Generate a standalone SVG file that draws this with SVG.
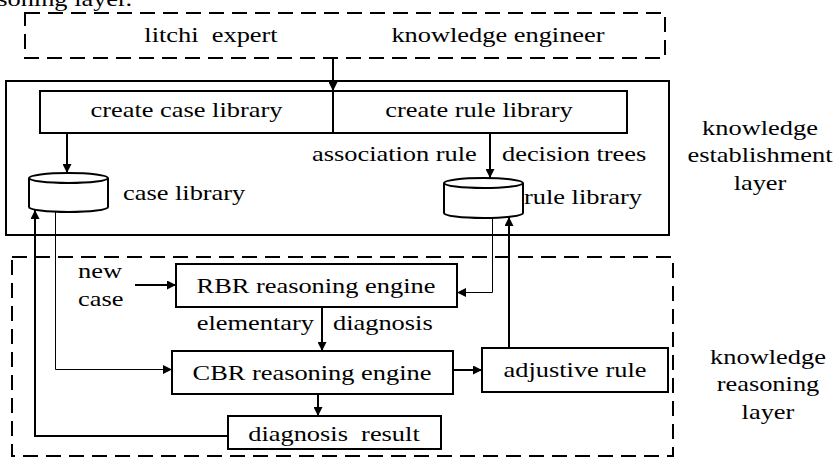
<svg xmlns="http://www.w3.org/2000/svg" width="835" height="467" viewBox="0 0 835 467">
<defs>
<style>
.t{font-family:"Liberation Serif","Times New Roman",serif;font-size:22px;fill:#000;white-space:pre}
.m{text-anchor:middle}
.e{text-anchor:end}
.box{fill:#fff;stroke:#000;stroke-width:2}
.dash{fill:none;stroke:#000;stroke-width:2;stroke-dasharray:15 8}
.thick{fill:none;stroke:#000;stroke-width:2}
.thin{fill:none;stroke:#000;stroke-width:1}
</style>
<marker id="ah" viewBox="0 0 10 10" refX="10" refY="5" markerWidth="9" markerHeight="9" markerUnits="userSpaceOnUse" orient="auto">
<path d="M0,0 L10,5 L0,10 Z" fill="#000"/>
</marker>
</defs>
<rect width="835" height="467" fill="#fff"/>
<text class="t e" x="110" y="6" transform="scale(1.2 1)">reasoning layer.</text>

<g id="layer-establishment">
<rect x="6" y="81" width="663" height="154" fill="none" stroke="#000" stroke-width="2"/>
<text class="t m" x="633.33" y="135" transform="scale(1.2 1)">knowledge</text>
<text class="t m" x="633.33" y="162" transform="scale(1.2 1)">establishment</text>
<text class="t m" x="633.33" y="190" transform="scale(1.2 1)">layer</text>
</g>
<g id="layer-reasoning">
<rect x="12" y="257" width="661" height="199" class="dash"/>
<text class="t m" x="640" y="364" transform="scale(1.2 1)">knowledge</text>
<text class="t m" x="640" y="391" transform="scale(1.2 1)">reasoning</text>
<text class="t m" x="640" y="419" transform="scale(1.2 1)">layer</text>
</g>
<g id="experts">
<rect x="25" y="13" width="640" height="45" class="dash"/>
<text class="t m" x="175.83" y="42" transform="scale(1.2 1)">litchi  expert</text>
<text class="t m" x="415" y="42" transform="scale(1.2 1)">knowledge engineer</text>
</g>
<g id="create-case-library">
<rect x="40" y="91" width="293" height="42" class="box"/>
<text class="t m" x="155.42" y="117" transform="scale(1.2 1)">create case library</text>
</g>
<g id="create-rule-library">
<rect x="333" y="91" width="294" height="42" class="box"/>
<text class="t m" x="399.17" y="117" transform="scale(1.2 1)">create rule library</text>
</g>
<g id="case-library">
<path d="M29,178 L29,207 A39.5,5 0 0 0 108,207 L108,178" class="box"/>
<ellipse cx="68.5" cy="178" rx="39.5" ry="5" class="box"/>
<text class="t" x="102.5" y="200" transform="scale(1.2 1)">case library</text>
</g>
<g id="rule-library">
<path d="M444,183 L444,213 A39.5,5 0 0 0 523,213 L523,183" class="box"/>
<ellipse cx="483.5" cy="183" rx="39.5" ry="5" class="box"/>
<text class="t" x="436.67" y="204" transform="scale(1.2 1)">rule library</text>
</g>
<g id="new-case">
<text class="t" x="65" y="278" transform="scale(1.2 1)">new</text>
<text class="t" x="65" y="306" transform="scale(1.2 1)">case</text>
</g>
<g id="rbr-engine">
<rect x="176" y="264" width="281" height="43" class="box"/>
<text class="t m" x="263.33" y="293" transform="scale(1.2 1)">RBR reasoning engine</text>
</g>
<g id="cbr-engine">
<rect x="172" y="351" width="281" height="43" class="box"/>
<text class="t m" x="260" y="380" transform="scale(1.2 1)">CBR reasoning engine</text>
</g>
<g id="adjustive-rule">
<rect x="482" y="348" width="186" height="44" class="box"/>
<text class="t m" x="479.17" y="377" transform="scale(1.2 1)">adjustive rule</text>
</g>
<g id="diagnosis-result">
<rect x="228" y="416" width="213" height="33" class="box"/>
<text class="t m" x="278.33" y="441" transform="scale(1.2 1)">diagnosis  result</text>
</g>

<g id="connectors">
<line x1="333" y1="58" x2="333" y2="91" class="thick" marker-end="url(#ah)"/>
<line x1="67" y1="133" x2="67" y2="173" class="thick" marker-end="url(#ah)"/>
<line x1="490" y1="133" x2="490" y2="178" class="thick" marker-end="url(#ah)"/>
<text class="t" x="260" y="161" transform="scale(1.2 1)">association rule</text>
<text class="t" x="418.33" y="161" transform="scale(1.2 1)">decision trees</text>
<line x1="135" y1="285" x2="176" y2="285" class="thick" marker-end="url(#ah)"/>
<line x1="322" y1="307" x2="322" y2="351" class="thick" marker-end="url(#ah)"/>
<text class="t e" x="261.67" y="330" transform="scale(1.2 1)">elementary</text>
<text class="t" x="277.5" y="330" transform="scale(1.2 1)">diagnosis</text>
<polyline points="55.5,212 55.5,369.5 172,369.5" class="thin" marker-end="url(#ah)"/>
<polyline points="492.5,218 492.5,292.5 457,292.5" class="thin" marker-end="url(#ah)"/>
<line x1="453" y1="370" x2="482" y2="370" class="thick" marker-end="url(#ah)"/>
<line x1="509" y1="348" x2="509" y2="217" class="thick" marker-end="url(#ah)"/>
<line x1="318" y1="394" x2="318" y2="416" class="thick" marker-end="url(#ah)"/>
<polyline points="228,436 35,436 35,210" class="thick" marker-end="url(#ah)"/>
</g>
</svg>
